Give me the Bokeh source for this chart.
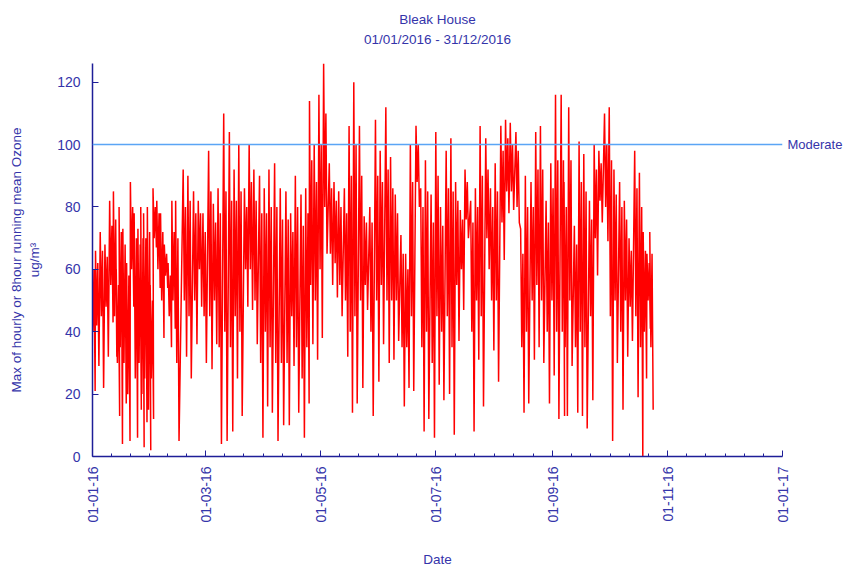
import pandas as pd
from math import pi
from bokeh.plotting import figure
from bokeh.models import Range1d, FixedTicker, DatetimeTickFormatter, Span, LinearAxis
from bokeh.embed import file_html
from bokeh.resources import INLINE

# ---------------- data ----------------
title_main = "Bleak House"
title_sub = "01/01/2016 - 31/12/2016"
y_label = "Max of hourly or 8hour running mean Ozone\nug/m\u00b3"
x_label = "Date"
threshold_value = 100
threshold_label = "Moderate"

x_tick_dates = ["2016-01-01", "2016-03-01", "2016-05-01", "2016-07-01",
                "2016-09-01", "2016-11-01", "2017-01-01"]
y_ticks = [0, 20, 40, 60, 80, 100, 120]

# day-of-year (from 01/01/2016) of each stretch of readings
seg_day = [0.5, 2.5, 5, 7.5, 10, 12, 13.5, 15, 17, 19, 21, 23, 25, 26.5, 28, 30, 31.5,
           33, 35, 37, 39, 41, 43, 45, 49, 51.5, 54.5, 57, 59.5, 62.5, 65, 67.5, 70.5,
           73.5, 76, 78.5, 81.5, 84, 86.5, 89.5, 92, 94.5, 97.5, 100.5, 103.5, 106,
           108.5, 111.5, 114, 116, 118.5, 121, 123.5, 126.5, 129, 131.5, 134.5, 137,
           139.5, 142.5, 145, 148, 151, 153.5, 156.5, 159, 161.5, 164.5, 167, 169.5,
           172.5, 175, 177.5, 180.5, 183, 185.5, 188.5, 191, 193.5, 196, 198.5, 201.5,
           204, 206.5, 209.5, 212, 214.5, 217.5, 220, 222.5, 225.5, 228, 230.5, 233.5,
           236, 238.5, 241.5, 244, 246.5, 249.5, 251, 253.5, 256.5, 259, 261.5, 264.5,
           267, 269.5, 272.5, 275, 277.5, 280.5, 283, 285.5, 288.5, 291, 293, 295, 296.5]
# highest spike in each stretch
seg_high = [64, 66, 72, 68, 82, 85, 60, 80, 73, 62, 88, 78, 73, 80, 78, 80, 55,
            86, 82, 78, 68, 62, 82, 82, 92, 90, 85, 82, 78, 98, 81, 86, 110,
            104, 92, 100, 86, 100, 92, 90, 86, 92, 94, 86, 85, 78,
            90, 84, 86, 114, 100, 116, 126, 94, 88, 85, 86, 106,
            120, 106, 77, 80, 108, 98, 112, 96, 84, 71, 65, 100,
            106, 86, 95, 84, 104, 80, 98, 102, 88, 79, 92, 82,
            86, 106, 102, 86, 94, 106, 108, 107, 104, 73, 90, 88,
            104, 106, 82, 94, 116, 116, 88, 112, 74, 101, 97, 82,
            100, 98, 110, 112, 92, 88, 82, 70, 98, 91, 72, 65, 72]
# upper edge of the dense body of readings in each stretch
seg_body_hi = [60, 62, 66, 64, 74, 76, 55, 72, 68, 58, 80, 70, 68, 70, 70, 72, 50,
               80, 78, 72, 65, 58, 72, 70, 80, 82, 78, 78, 72, 85, 75, 78, 85,
               82, 82, 85, 80, 88, 82, 78, 78, 80, 80, 76, 76, 72,
               80, 74, 78, 95, 88, 100, 110, 86, 82, 80, 78, 90,
               100, 90, 75, 75, 90, 88, 92, 86, 78, 65, 60, 88,
               100, 80, 85, 75, 90, 74, 86, 85, 82, 76, 88, 75,
               80, 90, 92, 80, 85, 98, 102, 100, 98, 65, 80, 80,
               92, 92, 75, 86, 95, 95, 80, 95, 68, 88, 85, 76,
               92, 94, 100, 95, 84, 80, 76, 66, 86, 80, 66, 62, 65]
# lower edge of the dense body of readings in each stretch
seg_body_lo = [40, 42, 45, 48, 55, 45, 30, 35, 30, 20, 60, 25, 30, 20, 25, 15, 25,
               70, 60, 50, 58, 45, 50, 30, 50, 45, 50, 60, 45, 45, 50, 35, 40,
               35, 45, 40, 60, 60, 50, 30, 40, 35, 30, 30, 30, 45,
               35, 25, 35, 55, 50, 60, 80, 65, 62, 55, 50, 40,
               45, 50, 55, 40, 50, 55, 50, 50, 50, 35, 35, 45,
               88, 35, 40, 30, 45, 40, 45, 35, 55, 60, 76, 40,
               50, 45, 70, 50, 50, 75, 85, 85, 80, 35, 40, 50,
               55, 50, 40, 50, 40, 40, 35, 50, 35, 40, 35, 45,
               70, 82, 80, 45, 50, 40, 50, 48, 45, 35, 40, 50, 35]
# lowest dip in each stretch
seg_low = [21, 29, 22, 32, 43, 32, 13, 4, 17, 5, 48, 6, 15, 3, 11, 2, 12,
           67, 54, 38, 54, 35, 41, 5, 32, 25, 36, 48, 30, 28, 36, 4, 5,
           8, 25, 13, 48, 47, 36, 6, 16, 14, 5, 10, 10, 29,
           14, 6, 17, 36, 31, 38, 65, 55, 51, 45, 32, 14,
           17, 22, 47, 13, 24, 36, 30, 31, 37, 16, 22, 21,
           80, 8, 12, 6, 23, 18, 20, 7, 37, 47, 70, 8,
           31, 16, 60, 34, 24, 63, 78, 79, 75, 14, 17, 31,
           35, 30, 17, 26, 12, 13, 13, 29, 14, 13, 9, 18,
           58, 75, 69, 5, 30, 15, 32, 37, 19, 0, 25, 41, 15]

# ---------------- build series ----------------
start = pd.Timestamp("2016-01-01")
xs, ys = [], []
for d, hi, bl, bh, lo in zip(seg_day, seg_high, seg_body_lo, seg_body_hi, seg_low):
    for off, v in ((-0.9, hi), (-0.3, bl), (0.3, bh), (0.9, lo)):
        xs.append(start + pd.Timedelta(days=d + off))
        ys.append(v)

major = [pd.Timestamp(t) for t in x_tick_dates]
major_ms = [t.value / 1e6 for t in major]
minor_ms = []
for a, b in zip(major_ms[:-1], major_ms[1:]):
    for k in range(1, 6):
        minor_ms.append(a + (b - a) * k / 6)

AXIS = "#1e1e98"
TEXT = "#3434aa"
FONT = "Liberation Sans"

p = figure(width=845, height=569, x_axis_type="datetime",
           x_range=Range1d(major_ms[0], major_ms[-1]), y_range=Range1d(0, 126),
           output_backend="svg", toolbar_location=None,
           min_border_left=92, min_border_right=62, min_border_top=63, min_border_bottom=111)
p.outline_line_color = None
p.grid.visible = False
p.background_fill_color = "white"
p.border_fill_color = "white"

bottom = p.below[0]
left = p.left[0]

# main title (outermost)
p.title.text = title_main
p.title.align = "center"
p.title.text_font = FONT
p.title.text_font_size = "13.5px"
p.title.text_font_style = "normal"
p.title.text_color = TEXT
p.title.standoff = 4

# second title line, carried by an empty axis above the frame
top = LinearAxis(ticker=FixedTicker(ticks=[]), axis_label=title_sub)
top.axis_line_color = None
top.major_tick_line_color = None
top.minor_tick_line_color = None
top.major_tick_in = 0
top.major_tick_out = 0
top.minor_tick_in = 0
top.minor_tick_out = 0
top.major_label_standoff = 0
top.axis_label_standoff = 17
top.axis_label_text_font = FONT
top.axis_label_text_font_size = "13.5px"
top.axis_label_text_font_style = "normal"
top.axis_label_text_color = TEXT
p.add_layout(top, "above")

p.line(xs, ys, line_color="#ff0000", line_width=1.5)

p.add_layout(Span(location=threshold_value, dimension="width", line_color="#5aa5f5", line_width=1.5))

right = LinearAxis(ticker=FixedTicker(ticks=[threshold_value]),
                   major_label_overrides={threshold_value: threshold_label})
right.axis_line_color = None
right.major_tick_line_color = None
right.minor_tick_line_color = None
right.major_tick_in = 0
right.major_tick_out = 0
right.minor_tick_in = 0
right.minor_tick_out = 0
right.major_label_standoff = 5
right.major_label_text_font = FONT
right.major_label_text_font_size = "13px"
right.major_label_text_color = TEXT
p.add_layout(right, "right")

for ax in (bottom, left):
    ax.axis_line_color = AXIS
    ax.axis_line_width = 1.5
    ax.major_tick_line_color = AXIS
    ax.minor_tick_line_color = AXIS
    ax.major_tick_in = 6
    ax.major_tick_out = 0
    ax.minor_tick_in = 3
    ax.minor_tick_out = 0
    ax.major_label_text_font = FONT
    ax.major_label_text_font_size = "14px"
    ax.major_label_text_color = TEXT
    ax.axis_label_text_font = FONT
    ax.axis_label_text_font_size = "13.5px"
    ax.axis_label_text_font_style = "normal"
    ax.axis_label_text_color = TEXT

bottom.ticker = FixedTicker(ticks=major_ms, minor_ticks=minor_ms)
fmt = "%d-%m-%y"
bottom.formatter = DatetimeTickFormatter(milliseconds=fmt, seconds=fmt, minsec=fmt, minutes=fmt,
                                         hourmin=fmt, hours=fmt, days=fmt, months=fmt, years=fmt)
bottom.major_label_orientation = pi / 2
bottom.major_label_standoff = 10
bottom.axis_label = x_label
bottom.axis_label_standoff = 26

left.ticker = FixedTicker(ticks=y_ticks)
left.minor_tick_line_color = None
left.major_label_standoff = 12
left.axis_label = y_label
left.axis_label_standoff = 12

open("out.html", "w").write(file_html(p, INLINE))
